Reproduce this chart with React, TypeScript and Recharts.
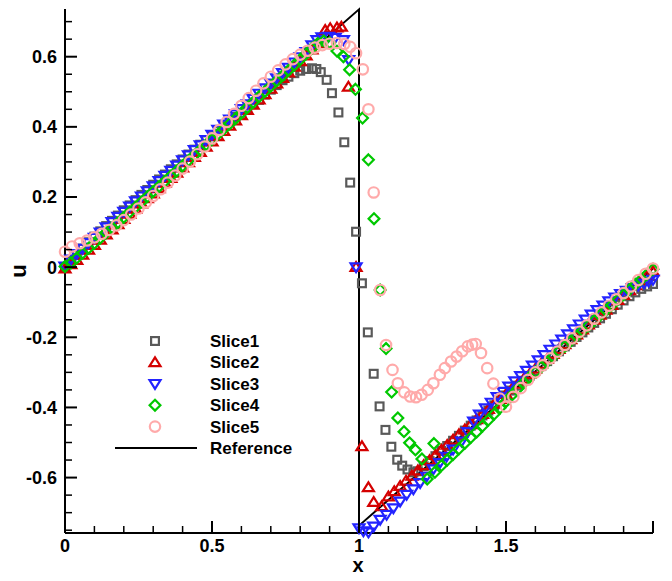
import { ComposedChart, Line, Scatter, XAxis, YAxis } from "recharts";

type Pt = [number, number];

// x, u pairs
const SLICE1: Pt[] = [
  [0, 0], [0.02, 0.018], [0.04, 0.035], [0.06, 0.053], [0.08, 0.071], [0.1, 0.087],
  [0.12, 0.102], [0.14, 0.117], [0.16, 0.132], [0.18, 0.147], [0.2, 0.162], [0.22, 0.176],
  [0.24, 0.191], [0.26, 0.206], [0.28, 0.22], [0.3, 0.235], [0.32, 0.25], [0.34, 0.264],
  [0.36, 0.279], [0.38, 0.293], [0.4, 0.307], [0.42, 0.321], [0.44, 0.335], [0.46, 0.349],
  [0.48, 0.362], [0.5, 0.375], [0.52, 0.389], [0.54, 0.402], [0.56, 0.415], [0.58, 0.428],
  [0.6, 0.44], [0.62, 0.452], [0.64, 0.465], [0.66, 0.477], [0.68, 0.492], [0.7, 0.506],
  [0.72, 0.519], [0.74, 0.533], [0.76, 0.543], [0.78, 0.553], [0.8, 0.56], [0.82, 0.565],
  [0.84, 0.567], [0.855, 0.565], [0.87, 0.556], [0.89, 0.534], [0.908, 0.496], [0.93, 0.441],
  [0.95, 0.356], [0.97, 0.241], [0.99, 0.101], [1.01, -0.046], [1.03, -0.186], [1.05, -0.304],
  [1.07, -0.397], [1.09, -0.464], [1.11, -0.512], [1.13, -0.549], [1.147, -0.566], [1.165, -0.577],
  [1.185, -0.585], [1.2, -0.582], [1.22, -0.568], [1.24, -0.553], [1.26, -0.539], [1.28, -0.524],
  [1.3, -0.51], [1.32, -0.495], [1.34, -0.481], [1.36, -0.466], [1.38, -0.452], [1.4, -0.437],
  [1.42, -0.423], [1.44, -0.409], [1.46, -0.394], [1.48, -0.38], [1.5, -0.366], [1.52, -0.352],
  [1.54, -0.338], [1.56, -0.324], [1.58, -0.31], [1.6, -0.296], [1.62, -0.282], [1.64, -0.268],
  [1.66, -0.254], [1.68, -0.24], [1.7, -0.226], [1.72, -0.213], [1.74, -0.199], [1.76, -0.186],
  [1.78, -0.172], [1.8, -0.159], [1.82, -0.146], [1.84, -0.133], [1.86, -0.12], [1.88, -0.107],
  [1.9, -0.095], [1.92, -0.083], [1.94, -0.072], [1.96, -0.062], [1.98, -0.055], [2.0, -0.048],
];

const SLICE2: Pt[] = [
  [0, -0.004], [0.02, 0.008], [0.04, 0.02], [0.06, 0.035], [0.08, 0.049], [0.1, 0.063],
  [0.12, 0.078], [0.14, 0.093], [0.16, 0.107], [0.18, 0.122], [0.2, 0.137], [0.22, 0.152],
  [0.24, 0.166], [0.26, 0.181], [0.28, 0.196], [0.3, 0.21], [0.32, 0.225], [0.34, 0.24],
  [0.36, 0.254], [0.38, 0.269], [0.4, 0.284], [0.42, 0.299], [0.44, 0.314], [0.46, 0.328],
  [0.48, 0.343], [0.5, 0.358], [0.52, 0.373], [0.54, 0.388], [0.56, 0.403], [0.58, 0.418],
  [0.6, 0.433], [0.62, 0.448], [0.64, 0.463], [0.66, 0.478], [0.68, 0.493], [0.7, 0.508],
  [0.72, 0.523], [0.74, 0.539], [0.76, 0.555], [0.78, 0.571], [0.8, 0.587], [0.82, 0.603],
  [0.84, 0.62], [0.86, 0.638], [0.885, 0.676], [0.902, 0.681], [0.925, 0.683], [0.94, 0.685],
  [0.964, 0.514], [0.99, 0], [1.01, -0.511], [1.032, -0.628], [1.05, -0.67], [1.077, -0.682],
  [1.1, -0.654], [1.12, -0.639], [1.14, -0.624], [1.16, -0.609], [1.18, -0.595], [1.2, -0.58],
  [1.22, -0.565], [1.24, -0.551], [1.26, -0.536], [1.28, -0.521], [1.3, -0.507], [1.32, -0.492],
  [1.34, -0.477], [1.36, -0.463], [1.38, -0.448], [1.4, -0.434], [1.42, -0.419], [1.44, -0.405],
  [1.46, -0.39], [1.48, -0.376], [1.5, -0.362], [1.52, -0.347], [1.54, -0.333], [1.56, -0.319],
  [1.58, -0.305], [1.6, -0.29], [1.62, -0.276], [1.64, -0.262], [1.66, -0.248], [1.68, -0.234],
  [1.7, -0.22], [1.72, -0.206], [1.74, -0.192], [1.76, -0.178], [1.78, -0.164], [1.8, -0.15],
  [1.82, -0.136], [1.84, -0.122], [1.86, -0.108], [1.88, -0.094], [1.9, -0.08], [1.92, -0.066],
  [1.94, -0.052], [1.96, -0.038], [1.98, -0.024], [2.0, -0.012],
];

const SLICE3: Pt[] = [
  [0, 0.002], [0.02, 0.022], [0.04, 0.038], [0.06, 0.053], [0.08, 0.069], [0.1, 0.084],
  [0.12, 0.099], [0.14, 0.114], [0.16, 0.129], [0.18, 0.144], [0.2, 0.158], [0.22, 0.173],
  [0.24, 0.188], [0.26, 0.202], [0.28, 0.217], [0.3, 0.231], [0.32, 0.246], [0.34, 0.261],
  [0.36, 0.275], [0.38, 0.29], [0.4, 0.305], [0.42, 0.319], [0.44, 0.334], [0.46, 0.348],
  [0.48, 0.363], [0.5, 0.378], [0.52, 0.392], [0.54, 0.407], [0.56, 0.421], [0.58, 0.436],
  [0.6, 0.451], [0.62, 0.465], [0.64, 0.48], [0.66, 0.495], [0.68, 0.51], [0.7, 0.524],
  [0.72, 0.539], [0.74, 0.554], [0.76, 0.569], [0.78, 0.584], [0.8, 0.599], [0.82, 0.614],
  [0.84, 0.633], [0.857, 0.648], [0.874, 0.656], [0.896, 0.657], [0.919, 0.654], [0.947, 0.648],
  [0.965, 0.591], [0.99, 0], [1.0, -0.744], [1.015, -0.753], [1.032, -0.756], [1.05, -0.739],
  [1.072, -0.72], [1.094, -0.706], [1.117, -0.687], [1.14, -0.668], [1.162, -0.649], [1.185, -0.633],
  [1.208, -0.615], [1.23, -0.597], [1.253, -0.576], [1.275, -0.558], [1.298, -0.54], [1.32, -0.52],
  [1.349, -0.497], [1.37, -0.47], [1.39, -0.44], [1.41, -0.42], [1.43, -0.402], [1.45, -0.386],
  [1.47, -0.37], [1.49, -0.355], [1.51, -0.34], [1.53, -0.325], [1.55, -0.31], [1.57, -0.295],
  [1.59, -0.28], [1.61, -0.265], [1.63, -0.25], [1.65, -0.235], [1.67, -0.22], [1.69, -0.206],
  [1.71, -0.191], [1.73, -0.177], [1.75, -0.163], [1.77, -0.149], [1.79, -0.135], [1.81, -0.122],
  [1.83, -0.109], [1.85, -0.097], [1.87, -0.086], [1.89, -0.076], [1.91, -0.067], [1.93, -0.059],
  [1.95, -0.052], [1.97, -0.046], [1.985, -0.041], [2.0, -0.036],
];

const SLICE4: Pt[] = [
  [0, 0.002], [0.02, 0.012], [0.04, 0.026], [0.06, 0.04], [0.08, 0.054], [0.1, 0.068],
  [0.12, 0.083], [0.14, 0.098], [0.16, 0.112], [0.18, 0.127], [0.2, 0.142], [0.22, 0.157],
  [0.24, 0.171], [0.26, 0.186], [0.28, 0.201], [0.3, 0.216], [0.32, 0.23], [0.34, 0.245],
  [0.36, 0.26], [0.38, 0.274], [0.4, 0.289], [0.42, 0.304], [0.44, 0.319], [0.46, 0.334],
  [0.48, 0.349], [0.5, 0.364], [0.52, 0.379], [0.54, 0.394], [0.56, 0.409], [0.58, 0.424],
  [0.6, 0.439], [0.62, 0.455], [0.64, 0.47], [0.66, 0.486], [0.68, 0.501], [0.7, 0.516],
  [0.72, 0.531], [0.74, 0.546], [0.76, 0.561], [0.78, 0.576], [0.8, 0.592], [0.82, 0.608],
  [0.84, 0.624], [0.86, 0.638], [0.88, 0.645], [0.9, 0.64], [0.925, 0.616], [0.947, 0.6],
  [0.968, 0.563], [0.988, 0.507], [1.012, 0.425], [1.032, 0.306], [1.051, 0.138], [1.072, -0.065],
  [1.092, -0.232], [1.111, -0.356], [1.132, -0.43], [1.153, -0.469], [1.172, -0.501], [1.192, -0.521],
  [1.214, -0.547], [1.232, -0.604], [1.255, -0.503], [1.258, -0.585], [1.28, -0.566], [1.3, -0.55],
  [1.32, -0.534], [1.34, -0.518], [1.36, -0.502], [1.38, -0.486], [1.4, -0.47], [1.42, -0.453],
  [1.44, -0.436], [1.46, -0.419], [1.48, -0.401], [1.5, -0.383], [1.52, -0.365], [1.54, -0.347],
  [1.56, -0.33], [1.58, -0.314], [1.6, -0.299], [1.62, -0.284], [1.64, -0.27], [1.66, -0.255],
  [1.68, -0.24], [1.7, -0.226], [1.72, -0.211], [1.74, -0.196], [1.76, -0.181], [1.78, -0.167],
  [1.8, -0.152], [1.82, -0.137], [1.84, -0.123], [1.86, -0.108], [1.88, -0.093], [1.9, -0.079],
  [1.92, -0.064], [1.94, -0.049], [1.96, -0.035], [1.98, -0.02], [2.0, -0.006],
];

const SLICE5: Pt[] = [
  [0, 0.044], [0.024, 0.059], [0.05, 0.068], [0.075, 0.076], [0.1, 0.085], [0.125, 0.095],
  [0.15, 0.106], [0.175, 0.119], [0.2, 0.134], [0.225, 0.15], [0.25, 0.167], [0.275, 0.185],
  [0.3, 0.203], [0.325, 0.222], [0.35, 0.241], [0.375, 0.261], [0.4, 0.281], [0.425, 0.301],
  [0.45, 0.322], [0.475, 0.344], [0.5, 0.367], [0.525, 0.391], [0.55, 0.414], [0.575, 0.437],
  [0.6, 0.46], [0.625, 0.482], [0.65, 0.503], [0.675, 0.524], [0.7, 0.543], [0.725, 0.561],
  [0.75, 0.578], [0.775, 0.593], [0.8, 0.606], [0.825, 0.617], [0.85, 0.626], [0.875, 0.633],
  [0.9, 0.637], [0.925, 0.639], [0.95, 0.636], [0.97, 0.628], [0.99, 0.61], [1.013, 0.564],
  [1.032, 0.45], [1.05, 0.213], [1.072, -0.065], [1.092, -0.222], [1.114, -0.293], [1.132, -0.331],
  [1.154, -0.357], [1.174, -0.369], [1.194, -0.371], [1.213, -0.364], [1.234, -0.35], [1.253, -0.331],
  [1.275, -0.307], [1.292, -0.288], [1.313, -0.269], [1.332, -0.255], [1.351, -0.24], [1.37, -0.226],
  [1.385, -0.221], [1.397, -0.219], [1.415, -0.245], [1.436, -0.288], [1.457, -0.332], [1.479, -0.375],
  [1.5, -0.398], [1.525, -0.37], [1.55, -0.345], [1.575, -0.321], [1.6, -0.3], [1.625, -0.28],
  [1.65, -0.26], [1.675, -0.241], [1.7, -0.222], [1.725, -0.203], [1.75, -0.184], [1.775, -0.166],
  [1.8, -0.147], [1.825, -0.129], [1.85, -0.11], [1.875, -0.092], [1.9, -0.074], [1.925, -0.055],
  [1.95, -0.037], [1.975, -0.019], [2.0, -0.004],
];

const REFERENCE: Pt[] = [[0, 0], [1, 0.735], [1, -0.737], [2, -0.004]];

const X_TICKS = [0, 0.1, 0.2, 0.3, 0.4, 0.5, 0.6, 0.7, 0.8, 0.9, 1, 1.1, 1.2, 1.3, 1.4, 1.5, 1.6, 1.7, 1.8, 1.9, 2];
const X_MAJOR = [0, 0.5, 1, 1.5, 2];
const X_LABELS = ["0", "0.5", "1", "1.5", ""];
const Y_TICKS = [
  -0.75, -0.7, -0.65, -0.6, -0.55, -0.5, -0.45, -0.4, -0.35, -0.3, -0.25, -0.2, -0.15, -0.1, -0.05,
  0, 0.05, 0.1, 0.15, 0.2, 0.25, 0.3, 0.35, 0.4, 0.45, 0.5, 0.55, 0.6, 0.65, 0.7,
];
const Y_MAJOR = [-0.6, -0.4, -0.2, 0, 0.2, 0.4, 0.6];
const Y_LABELS = ["-0.6", "-0.4", "-0.2", "0", "0.2", "0.4", "0.6"];

const SERIES = [
  { name: "Slice1", kind: "square", color: "#595959", pts: SLICE1 },
  { name: "Slice2", kind: "up", color: "#d40000", pts: SLICE2 },
  { name: "Slice3", kind: "down", color: "#2323ff", pts: SLICE3 },
  { name: "Slice4", kind: "diamond", color: "#00c800", pts: SLICE4 },
  { name: "Slice5", kind: "circle", color: "#ffaaaa", pts: SLICE5 },
];

const FONT = '"Liberation Sans", Arial, Helvetica, sans-serif';
const W = 672;
const H = 581;

const rows = (pts: Pt[]) => pts.map(([x, u]) => ({ x, u }));

function Marker({ kind, color, cx, cy }: { kind: string; color: string; cx: number; cy: number }) {
  const common = { fill: "none", stroke: color, strokeWidth: 2.2 };
  if (kind === "square") return <rect x={cx - 3.9} y={cy - 3.9} width={7.8} height={7.8} {...common} />;
  if (kind === "up")
    return <polygon points={`${cx},${cy - 5} ${cx + 5.5},${cy + 3.8} ${cx - 5.5},${cy + 3.8}`} {...common} />;
  if (kind === "down")
    return <polygon points={`${cx},${cy + 5} ${cx + 5.5},${cy - 3.8} ${cx - 5.5},${cy - 3.8}`} {...common} />;
  if (kind === "diamond")
    return <polygon points={`${cx},${cy - 5.4} ${cx + 5.4},${cy} ${cx},${cy + 5.4} ${cx - 5.4},${cy}`} {...common} />;
  return <circle cx={cx} cy={cy} r={5.2} {...common} />;
}

function YTick(props: any) {
  const { x, y, payload } = props;
  const i = Y_MAJOR.indexOf(payload.value);
  const major = i >= 0;
  return (
    <g>
      <line x1={x} x2={x + (major ? 12 : 7)} y1={y} y2={y} stroke="#000" strokeWidth={major ? 2 : 1.5} />
      {major && (
        <text x={x - 8} y={y} dy={6.5} textAnchor="end" fontFamily={FONT} fontWeight="bold" fontSize={18} fill="#000">
          {Y_LABELS[i]}
        </text>
      )}
    </g>
  );
}

function XTick(props: any) {
  const { x, y, payload } = props;
  const i = X_MAJOR.indexOf(payload.value);
  const major = i >= 0;
  return (
    <g>
      <line x1={x} x2={x} y1={y} y2={y - (major ? 12 : 7)} stroke="#000" strokeWidth={major ? 2 : 1.5} />
      {major && X_LABELS[i] && (
        <text x={x} y={y + 19} textAnchor="middle" fontFamily={FONT} fontWeight="bold" fontSize={18} fill="#000">
          {X_LABELS[i]}
        </text>
      )}
    </g>
  );
}

export default function App() {
  return (
    <div style={{ position: "absolute", left: 0, top: 0, width: W, height: H, background: "#fff" }}>
      <ComposedChart width={W} height={H} margin={{ top: 9, right: 19, bottom: 0, left: 0 }}>
        <XAxis
          type="number"
          dataKey="x"
          domain={[0, 2]}
          ticks={X_TICKS}
          interval={0}
          tickSize={0}
          tickMargin={0}
          tick={<XTick />}
          axisLine={{ stroke: "#000", strokeWidth: 2 }}
          height={48}
        />
        <YAxis
          type="number"
          dataKey="u"
          domain={[-0.758, 0.736]}
          ticks={Y_TICKS}
          interval={0}
          tickSize={0}
          tickMargin={0}
          tick={<YTick />}
          axisLine={{ stroke: "#000", strokeWidth: 2 }}
          width={65}
        />
        {SERIES.map((s) => (
          <Scatter
            key={s.name}
            name={s.name}
            data={rows(s.pts)}
            isAnimationActive={false}
            shape={(p: any) => <Marker kind={s.kind} color={s.color} cx={p.cx} cy={p.cy} />}
          />
        ))}
        <Line
          data={rows(REFERENCE)}
          dataKey="u"
          type="linear"
          stroke="#000"
          strokeWidth={2}
          dot={false}
          activeDot={false}
          isAnimationActive={false}
        />
      </ComposedChart>
      <svg width={W} height={H} style={{ position: "absolute", left: 0, top: 0, pointerEvents: "none" }}>
        <text
          x={18}
          y={271}
          transform="rotate(-90 18 271)"
          textAnchor="middle"
          dominantBaseline="central"
          fontFamily={FONT}
          fontWeight="bold"
          fontSize={22}
        >
          u
        </text>
        <text x={358} y={572} textAnchor="middle" fontFamily={FONT} fontWeight="bold" fontSize={20}>
          x
        </text>
        {SERIES.map((s, i) => {
          const y = 341 + i * 21.4;
          return (
            <g key={s.name}>
              <Marker kind={s.kind} color={s.color} cx={155} cy={y} />
              <text x={210} y={y + 6} fontFamily={FONT} fontWeight="bold" fontSize={17}>
                {s.name}
              </text>
            </g>
          );
        })}
        <line x1={115} x2={197} y1={448} y2={448} stroke="#000" strokeWidth={2} />
        <text x={210} y={454} fontFamily={FONT} fontWeight="bold" fontSize={17}>
          Reference
        </text>
      </svg>
    </div>
  );
}
